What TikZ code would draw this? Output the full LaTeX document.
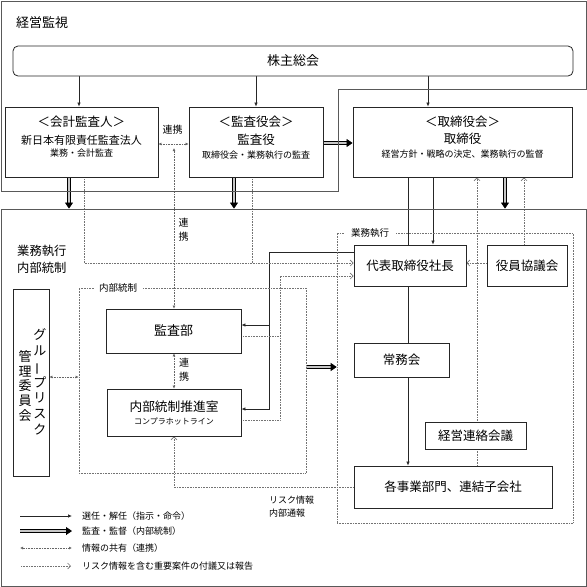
\documentclass[tikz,border=0pt]{standalone}
\usepackage{fontspec}
\usepackage{graphicx}
\setmainfont{Noto Sans CJK JP}
\usetikzlibrary{arrows.meta}
\newcommand\jfs[1]{\fontsize{#1}{#1}\selectfont}
\pgfdeclarelayer{bg}
\pgfsetlayers{bg,main}
\begin{document}
\begin{tikzpicture}[x=1pt,y=-1pt,
  box/.style={draw=black!85, line width=0.8pt, fill=white, inner sep=0pt},
  txt/.style={inner sep=0pt},
  arr/.style={line width=0.7pt, black!85, -{Latex[length=4pt,width=3.5pt]}},
  plain/.style={line width=0.7pt, black!85},
  dbl/.style={draw=black, double=black!22, double distance=1.7pt, line width=0.75pt, -{Triangle[length=6pt,width=8pt]}},
  info/.style={densely dotted, line width=0.6pt, black!60, {Latex[length=3pt,width=3pt]}-{Latex[length=3pt,width=3pt]}},
  rep/.style={densely dotted, line width=0.6pt, black!55, -{Straight Barb[length=3pt,width=6pt]}},
  dline/.style={densely dotted, line width=0.6pt, black!55},
  region/.style={draw=black!65, line width=0.8pt, inner sep=0pt},
  dregion/.style={densely dotted, draw=black!55, line width=0.6pt, inner sep=0pt},
]
\useasboundingbox (0,0) rectangle (587,587);

% regions
\draw[black!65, line width=0.8pt] (1,1) -- (586,1) -- (586,89) -- (338,89) -- (338,191) -- (1,191) -- cycle;
\node[region, minimum width=585pt, minimum height=377pt] (lower) at (293.5,397.5) {};
\node[dregion, minimum width=227pt, minimum height=185pt] (naibuR) at (192.5,380.5) {};
\node[dregion, minimum width=236pt, minimum height=290pt] (gyomuR) at (455,378) {};
\node[txt, fill=white, inner xsep=5pt, font=\jfs{9.5}] (naibuL) at (118,288) {内部統制};
\node[txt, fill=white, inner xsep=7pt, font=\jfs{9.5}] (gyomuL) at (370,233) {業務執行};

% titles
\node[txt, anchor=west, font=\jfs{13}] (title) at (16,23) {経営監視};
\node[txt, anchor=west, align=left, font=\fontsize{12.3}{17}\selectfont] (title2) at (17,259.5) {業務執行\\内部統制};

% top boxes
\node[box, rounded corners=5pt, minimum width=560pt, minimum height=30pt, font=\jfs{13}] (kabu) at (293,61) {株主総会};
\node[box, minimum width=153pt, minimum height=70pt] (kaikei) at (81.5,142) {};
\node[txt, font=\jfs{12.5}] (kaikeiA) at (81.5,122) {＜会計監査人＞};
\node[txt, font=\jfs{11}] (kaikeiB) at (81.5,140) {新日本有限責任監査法人};
\node[txt, font=\jfs{9}] (kaikeiC) at (81.5,153) {業務・会計監査};

\node[box, minimum width=134pt, minimum height=70pt] (kansayaku) at (256,142) {};
\node[txt, font=\jfs{12.5}] (kansayakuA) at (256,122) {＜監査役会＞};
\node[txt, font=\jfs{12.5}] (kansayakuB) at (256,140) {監査役};
\node[txt, font=\jfs{9}] (kansayakuC) at (256,155) {取締役会・業務執行の監査};

\node[box, minimum width=219pt, minimum height=70pt] (torishimari) at (462.5,142) {};
\node[txt, font=\jfs{12.5}] (torishimariA) at (462.5,122) {＜取締役会＞};
\node[txt, font=\jfs{12.5}] (torishimariB) at (462.5,139) {取締役};
\node[txt, font=\jfs{9}] (torishimariC) at (462.5,154) {経営方針・戦略の決定、業務執行の監督};

% execution boxes
\node[box, minimum width=112pt, minimum height=41pt, font=\jfs{12.5}] (shacho) at (410,265.5) {代表取締役社長};
\node[box, minimum width=80pt, minimum height=41pt, font=\jfs{12.5}] (yakuin) at (527,265.5) {役員協議会};
\node[box, minimum width=95pt, minimum height=34pt, font=\jfs{12.5}] (jomu) at (401.5,360) {常務会};
\node[box, minimum width=101pt, minimum height=27pt, font=\jfs{12.5}] (keiei) at (475.5,435.5) {経営連絡会議};
\node[box, minimum width=198pt, minimum height=42pt, font=\jfs{12.5}] (jigyo) at (453,487) {各事業部門、連結子会社};

% internal control boxes
\node[box, minimum width=135pt, minimum height=44pt, font=\jfs{13}] (kansabu) at (173.5,331) {監査部};
\node[box, minimum width=134pt, minimum height=47pt] (naibu) at (174,412.5) {};
\node[txt, font=\jfs{12.7}] (naibuA) at (174,407) {内部統制推進室};
\node[txt, font=\jfs{8}] (naibuB) at (174,421.5) {コンプラホットライン};

\node[box, minimum width=36pt, minimum height=187pt] (group) at (31,382.5) {};
\node[txt, align=center, font=\fontsize{13}{15.8}\selectfont] (groupA) at (40,382) {グ\\ル\\\rotatebox[origin=c]{90}{ー}\\プ\\リ\\ス\\ク};
\node[txt, align=center, font=\fontsize{13}{14.8}\selectfont] (groupB) at (25,386) {管\\理\\委\\員\\会};

% small labels
\node[txt, font=\jfs{10}] (renkei1) at (172.5,130) {連携};
\node[txt, align=center, font=\fontsize{10}{14}\selectfont] (renkei2) at (183.5,230) {連\\携};
\node[txt, align=center, font=\fontsize{10}{14}\selectfont] (renkei3) at (184,370) {連\\携};
\node[txt, anchor=north west, align=left, font=\fontsize{9}{12.5}\selectfont] (risk) at (269,496) {リスク情報\\内部通報};

% legend
\coordinate (L1a) at (20,516); \coordinate (L1b) at (72,516);
\coordinate (L2a) at (20,531); \coordinate (L2b) at (72,531);
\coordinate (L3a) at (20,548); \coordinate (L3b) at (72,548);
\coordinate (L4a) at (21,566); \coordinate (L4b) at (71,566);
\node[txt, anchor=west, font=\jfs{9}] (leg1) at (82,516) {選任・解任（指示・命令）};
\node[txt, anchor=west, font=\jfs{9}] (leg2) at (82,531) {監査・監督（内部統制）};
\node[txt, anchor=west, font=\jfs{9}] (leg3) at (82,548) {情報の共有（連携）};
\node[txt, anchor=west, font=\jfs{9}] (leg4) at (82,566) {リスク情報を含む重要案件の付議又は報告};

% junction coordinates
\coordinate (renkeiTop) at (174,148);
\coordinate (jA) at (252,263);
\coordinate (jB) at (280,276);
\coordinate (jC) at (269,409);
\coordinate (jD) at (269,325);

\begin{pgfonlayer}{bg}
% selection arrows
\draw[arr] (kabu.south -| 79,0) -- (kaikei.north -| 79,0);
\draw[arr] (kabu.south -| kansayaku.north) -- (kansayaku.north);
\draw[arr] (kabu.south -| 428,0) -- (torishimari.north -| 428,0);
\draw[arr] (torishimari.south -| 433,0) -- (shacho.north -| 433,0);
\draw[plain] (torishimari.south -| 408,0) -- (shacho.north -| 408,0);
\draw[plain] (shacho.south -| 408,0) -- (jomu.north -| 408,0);
\draw[arr] (jomu.south -| 408,0) -- (jigyo.north -| 408,0);
\draw[arr] (shacho.west |- 0,252) -| (jC) -- (naibu.east |- jC);
\draw[arr] (jD) -- (kansabu.east |- jD);

% audit arrows
\draw[dbl] (kaikei.south -| 69,0) -- (lower.north -| 69,0);
\draw[dbl] (kansayaku.south -| 234,0) -- (lower.north -| 234,0);
\draw[dbl] (torishimari.south -| 505,0) -- (lower.north -| 505,0);
\draw[dbl] (kansayaku.east |- 0,143) -- (torishimari.west |- 0,143);
\draw[dbl] (naibuR.east |- 0,367) -- (gyomuR.west |- 0,367);

% information sharing
\draw[info] (kaikei.east |- 0,144) -- (kansayaku.west |- 0,144);
\draw[info] (renkeiTop) -- (kansabu.north -| renkeiTop);
\draw[info] (kansabu.south -| 174,0) -- (naibu.north -| 174,0);
\draw[info] (group.east |- 0,377) -- (naibuR.west |- 0,377);

% reports
\draw[rep] (kaikei.south -| 84,0) |- (shacho.west |- jA);
\draw[dline] (kansayaku.south -| jA) -- (jA);
\draw[rep] (naibu.east |- 0,420) -| (jB) -- (shacho.west |- jB);
\draw[dline] (kansabu.east |- 0,336) -- (jB |- 0,336);
\draw[rep] (yakuin.west |- 0,263) -- (shacho.east |- 0,263);
\draw[rep] (yakuin.north -| 524,0) -- (torishimari.south -| 524,0);
\draw[rep] (jigyo.north -| 477,0) -- (torishimari.south -| 477,0);
\draw[rep] (jigyo.west |- 0,487) -| (naibu.south);

% legend lines
\draw[arr] (L1a) -- (L1b);
\draw[dbl] (L2a) -- (L2b);
\draw[info] (L3a) -- (L3b);
\draw[rep] (L4a) -- (L4b);
\end{pgfonlayer}
\end{tikzpicture}
\end{document}
